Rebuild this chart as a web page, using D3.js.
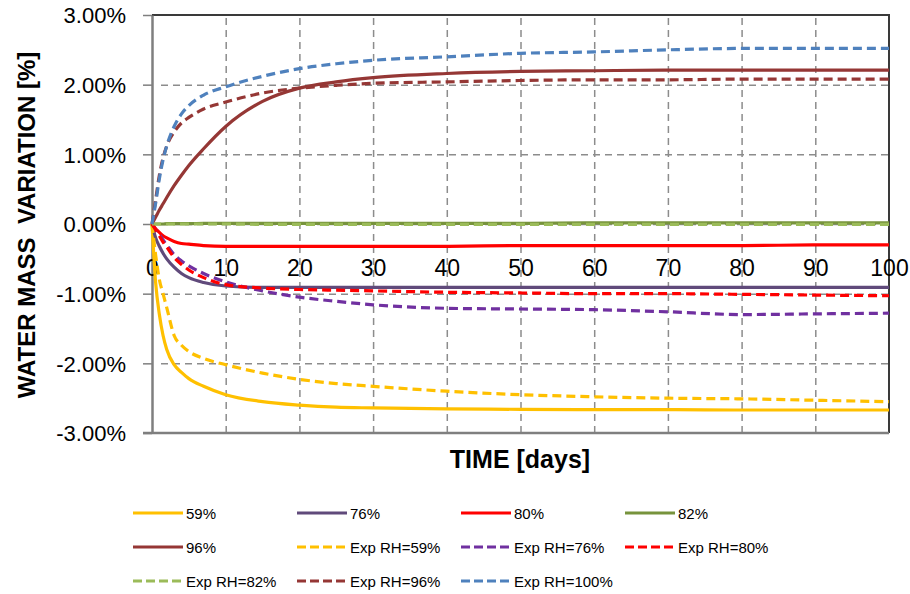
<!DOCTYPE html>
<html>
<head>
<meta charset="utf-8">
<script src="https://cdn.jsdelivr.net/npm/d3@7"></script>
<style>
  html, body { margin: 0; padding: 0; background: #fff; }
  svg { display: block; }
  text { font-family: "Liberation Sans", Arial, sans-serif; fill: #000; }
</style>
</head>
<body>
<svg id="chart" width="910" height="594"></svg>
<script>
// Time axis (days) shared by every series
const days = [0, 0.5, 1, 1.5, 2, 3, 4, 5, 7, 10, 15, 20, 25, 30, 40, 50, 60, 70, 80, 90, 100];

// Water mass variation [%] — model curves
const rh59  = [0, -0.85, -1.3, -1.6, -1.8, -2.02, -2.13, -2.22, -2.33, -2.45, -2.55, -2.6, -2.63, -2.64, -2.655, -2.66, -2.665, -2.665, -2.67, -2.67, -2.67];
const rh76  = [0, -0.2, -0.32, -0.42, -0.5, -0.62, -0.71, -0.77, -0.84, -0.89, -0.91, -0.91, -0.91, -0.91, -0.91, -0.91, -0.91, -0.91, -0.91, -0.91, -0.91];
const rh80  = [0, -0.07, -0.12, -0.17, -0.2, -0.25, -0.28, -0.29, -0.31, -0.32, -0.32, -0.32, -0.32, -0.32, -0.32, -0.31, -0.31, -0.31, -0.31, -0.3, -0.3];
const rh82  = [0, 0, 0, 0, 0.005, 0.005, 0.005, 0.005, 0.01, 0.01, 0.01, 0.01, 0.01, 0.01, 0.01, 0.01, 0.015, 0.015, 0.015, 0.015, 0.015];
const rh96  = [0, 0.1, 0.2, 0.29, 0.38, 0.55, 0.7, 0.84, 1.08, 1.4, 1.76, 1.95, 2.04, 2.1, 2.16, 2.19, 2.2, 2.21, 2.21, 2.21, 2.21];

// Water mass variation [%] — experimental curves
const exp59  = [0, -0.45, -0.8, -1.0, -1.2, -1.6, -1.74, -1.83, -1.93, -2.02, -2.14, -2.23, -2.29, -2.33, -2.4, -2.45, -2.48, -2.5, -2.51, -2.53, -2.55];
const exp76  = [0, -0.08, -0.15, -0.23, -0.3, -0.44, -0.53, -0.6, -0.71, -0.83, -0.96, -1.05, -1.11, -1.16, -1.21, -1.22, -1.23, -1.26, -1.3, -1.29, -1.28];
const exp80  = [0, -0.08, -0.17, -0.26, -0.33, -0.48, -0.58, -0.66, -0.77, -0.87, -0.92, -0.94, -0.95, -0.96, -0.98, -0.99, -1.0, -1.0, -1.01, -1.02, -1.03];
const exp82  = [0, 0, 0, 0, 0, 0, 0, 0, 0, 0, -0.005, -0.005, -0.005, -0.005, -0.005, -0.005, -0.005, -0.005, -0.005, -0.005, -0.005];
const exp96  = [0, 0.35, 0.7, 0.95, 1.12, 1.32, 1.45, 1.53, 1.65, 1.75, 1.88, 1.95, 1.99, 2.02, 2.04, 2.06, 2.07, 2.07, 2.08, 2.08, 2.08];
const exp100 = [0, 0.3, 0.65, 0.92, 1.12, 1.4, 1.58, 1.7, 1.85, 1.97, 2.12, 2.23, 2.3, 2.35, 2.4, 2.45, 2.47, 2.5, 2.52, 2.52, 2.52];

const seriesNames = ["59%", "76%", "80%", "82%", "96%",
  "Exp RH=59%", "Exp RH=76%", "Exp RH=80%", "Exp RH=82%", "Exp RH=96%", "Exp RH=100%"];
const seriesValues = [rh59, rh76, rh80, rh82, rh96, exp59, exp76, exp80, exp82, exp96, exp100];
const seriesColors = ["#FFC000", "#604A7B", "#FF0000", "#77933C", "#953735",
  "#FFC000", "#7030A0", "#FF0000", "#9BBB59", "#953735", "#4F81BD"];
const seriesDashed = [false, false, false, false, false, true, true, true, true, true, true];

const xTicks = [0, 10, 20, 30, 40, 50, 60, 70, 80, 90, 100];
const yTicks = [-3, -2, -1, 0, 1, 2, 3];

const svg = d3.select("#chart");
const plot = { left: 152, right: 889, top: 15, bottom: 433 };

const x = d3.scaleLinear().domain([0, 100]).range([plot.left, plot.right]);
const y = d3.scaleLinear().domain([-3, 3]).range([plot.bottom, plot.top]);

// Percent labels with a plain hyphen for negatives
const pct = d => d3.format(".2f")(d).replace("\u2212", "-") + "%";

// Horizontal gridlines
svg.append("g")
  .attr("transform", `translate(${plot.left},0)`)
  .call(d3.axisLeft(y).tickValues(yTicks.filter(v => v > -3 && v < 3)).tickSize(-(plot.right - plot.left)).tickFormat("").tickSizeOuter(0))
  .call(g => g.select(".domain").remove())
  .call(g => g.selectAll("line").attr("x1", 9).attr("stroke", "#8c8c8c").attr("stroke-width", 1.5).attr("stroke-dasharray", "7,5"));

// Vertical gridlines
svg.append("g")
  .attr("transform", `translate(0,${plot.bottom})`)
  .call(d3.axisBottom(x).tickValues(xTicks.filter(v => v > 0 && v < 100)).tickSize(-(plot.bottom - plot.top)).tickFormat("").tickSizeOuter(0))
  .call(g => g.select(".domain").remove())
  .call(g => g.selectAll("line").attr("stroke", "#8c8c8c").attr("stroke-width", 1.5).attr("stroke-dasharray", "7,5"));

// Plot frame: top and right edges
svg.append("path")
  .attr("d", `M${plot.left},${plot.top}H${plot.right}V${plot.bottom}`)
  .attr("fill", "none").attr("stroke", "#3a3a3a").attr("stroke-width", 2);

// Bottom edge
svg.append("line")
  .attr("x1", plot.left - 9).attr("x2", plot.right).attr("y1", plot.bottom).attr("y2", plot.bottom)
  .attr("stroke", "#7f7f7f").attr("stroke-width", 2.5);

// Left axis with outward ticks and percent labels
svg.append("g")
  .attr("transform", `translate(${plot.left},0)`)
  .call(d3.axisLeft(y).tickValues(yTicks).tickSize(9).tickSizeOuter(0)
    .tickFormat(pct).tickPadding(17))
  .call(g => g.select(".domain").attr("stroke", "#7f7f7f").attr("stroke-width", 2.5))
  .call(g => g.selectAll(".tick line").attr("stroke", "#7f7f7f").attr("stroke-width", 1.5))
  .call(g => g.selectAll("text")
    .attr("font-family", "Liberation Sans, Arial, sans-serif")
    .attr("font-size", 22).attr("fill", "#000").attr("dy", "0.36em"));

// Day labels along the zero line
svg.append("g")
  .attr("transform", `translate(0,${y(0)})`)
  .call(d3.axisBottom(x).tickValues(xTicks).tickSize(0).tickPadding(0).tickFormat(d3.format("d")))
  .call(g => g.select(".domain").remove())
  .call(g => g.selectAll("text")
    .attr("font-family", "Liberation Sans, Arial, sans-serif")
    .attr("font-size", 23).attr("fill", "#000").attr("dy", null).attr("y", 52));

// Series lines
const line = d3.line()
  .x((d, i) => x(days[i]))
  .y(d => y(d))
  .curve(d3.curveMonotoneX);

seriesValues.forEach((vals, k) => {
  svg.append("path")
    .datum(vals)
    .attr("d", line)
    .attr("fill", "none")
    .attr("stroke", seriesColors[k])
    .attr("stroke-width", 3.2)
    .attr("stroke-dasharray", seriesDashed[k] ? "9,5" : null)
    .attr("stroke-linejoin", "round");
});

// Axis titles
svg.append("text")
  .attr("x", 520).attr("y", 468)
  .attr("text-anchor", "middle")
  .attr("font-size", 25).attr("font-weight", "bold")
  .text("TIME [days]");

svg.append("text")
  .attr("transform", "translate(35,225) rotate(-90)")
  .attr("text-anchor", "middle")
  .attr("font-size", 24).attr("font-weight", "bold")
  .style("white-space", "pre")
  .text("WATER MASS  VARIATION [%]");

// Legend: four entries per row
const legendCols = [133, 297, 461, 625];
const legendRows = [513, 547, 581];
const legend = svg.append("g");
seriesNames.forEach((name, k) => {
  const cx = legendCols[k % 4], cy = legendRows[Math.floor(k / 4)];
  legend.append("line")
    .attr("x1", cx).attr("x2", cx + 50).attr("y1", cy).attr("y2", cy)
    .attr("stroke", seriesColors[k]).attr("stroke-width", 3)
    .attr("stroke-dasharray", seriesDashed[k] ? "9,4" : null);
  legend.append("text")
    .attr("x", cx + 53).attr("y", cy + 6)
    .attr("font-size", 15)
    .text(name);
});
</script>
</body>
</html>
